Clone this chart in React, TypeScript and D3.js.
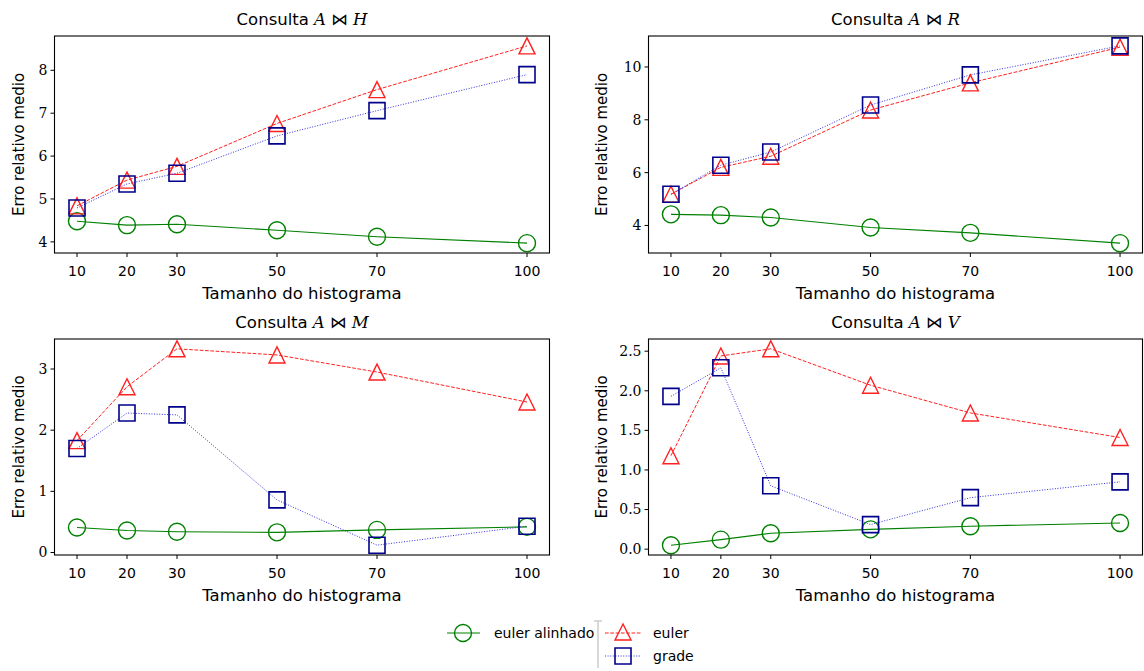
import React from "react";
import * as d3 from "d3";

// tamanhos de histograma (eixo x)
const sizes = [10, 20, 30, 50, 70, 100];

// Consulta A ⋈ H
const alinhadoH = [4.48, 4.39, 4.41, 4.27, 4.12, 3.97];
const eulerH = [4.84, 5.44, 5.76, 6.76, 7.55, 8.57];
const gradeH = [4.79, 5.35, 5.6, 6.47, 7.06, 7.9];
const ticksH = [4, 5, 6, 7, 8];

// Consulta A ⋈ R
const alinhadoR = [4.42, 4.39, 4.3, 3.92, 3.72, 3.33];
const eulerR = [5.18, 6.2, 6.62, 8.37, 9.4, 10.75];
const gradeR = [5.18, 6.28, 6.78, 8.56, 9.7, 10.8];
const ticksR = [4, 6, 8, 10];

// Consulta A ⋈ M
const alinhadoM = [0.41, 0.36, 0.34, 0.33, 0.37, 0.42];
const eulerM = [1.83, 2.71, 3.33, 3.23, 2.95, 2.46];
const gradeM = [1.7, 2.28, 2.25, 0.86, 0.12, 0.43];
const ticksM = [0, 1, 2, 3];

// Consulta A ⋈ V
const alinhadoV = [0.05, 0.12, 0.2, 0.25, 0.29, 0.33];
const eulerV = [1.18, 2.44, 2.53, 2.07, 1.72, 1.41];
const gradeV = [1.93, 2.29, 0.8, 0.31, 0.65, 0.85];
const ticksV = [0, 0.5, 1, 1.5, 2, 2.5];

const SANS = "DejaVu Sans, sans-serif";
const SERIF = "DejaVu Serif, serif";

const GREEN = "#008000";
const RED = "#ff2020";
const NAVY = "#00008b";
const BLUE = "#3030e0";

const triPath = "M0,-8L-8,8L8,8Z";
const sqPath = "M-8,-8H8V8H-8Z";

function Marker({ kind, x, y }) {
  if (kind === "circle")
    return <circle cx={x} cy={y} r={8.5} fill="none" stroke={GREEN} strokeWidth={1.4} />;
  if (kind === "tri")
    return <path d={triPath} transform={`translate(${x},${y})`} fill="none" stroke={RED} strokeWidth={1.4} />;
  return <path d={sqPath} transform={`translate(${x},${y})`} fill="none" stroke={NAVY} strokeWidth={1.6} />;
}

function Panel({ left, right, top, bottom, letter, alinhado, euler, grade, ticks, fmt, labelGap }) {
  const x = d3.scaleLinear().domain([5.5, 104.5]).range([left, right]);
  const all = [...alinhado, ...euler, ...grade];
  const lo = d3.min(all), hi = d3.max(all);
  const pad = (hi - lo) * 0.05;
  const y = d3.scaleLinear().domain([lo - pad, hi + pad]).range([bottom, top]);
  const line = d3.line<number>().x((d, i) => x(sizes[i])).y((d) => y(d));
  const cx = (left + right) / 2;
  const cy = (top + bottom) / 2;

  const series = [
    { vals: alinhado, kind: "circle", stroke: GREEN, dash: null, w: 1.1 },
    { vals: euler, kind: "tri", stroke: RED, dash: "3.7,1.6", w: 1 },
    { vals: grade, kind: "sq", stroke: BLUE, dash: "1,1.6", w: 1 },
  ];

  return (
    <g>
      <text x={cx} y={top - 11} textAnchor="middle" fontFamily={SANS} fontSize={16.5}>
        Consulta{" "}
        <tspan fontFamily={SERIF} fontStyle="italic">A</tspan>
        <tspan fontFamily={SANS}> ⋈ </tspan>
        <tspan fontFamily={SERIF} fontStyle="italic">{letter}</tspan>
      </text>

      {series.map((s, k) => (
        <g key={k}>
          <path d={line(s.vals)} fill="none" stroke={s.stroke} strokeWidth={s.w} strokeDasharray={s.dash || undefined} />
          {s.vals.map((v, i) => (
            <Marker key={i} kind={s.kind} x={x(sizes[i])} y={y(v)} />
          ))}
        </g>
      ))}

      <rect x={left} y={top} width={right - left} height={bottom - top} fill="none" stroke="#000" strokeWidth={1.1} />

      {sizes.map((s) => (
        <g key={s}>
          <line x1={x(s)} x2={x(s)} y1={bottom} y2={bottom + 4} stroke="#000" />
          <text x={x(s)} y={bottom + 23} textAnchor="middle" fontFamily={SANS} fontSize={14}>
            {s}
          </text>
        </g>
      ))}
      {ticks.map((t) => (
        <g key={t}>
          <line x1={left - 4} x2={left} y1={y(t)} y2={y(t)} stroke="#000" />
          <text x={left - 7} y={y(t)} dy="0.35em" textAnchor="end" fontFamily={SERIF} fontSize={14}>
            {fmt(t)}
          </text>
        </g>
      ))}

      <text x={cx} y={bottom + 46} textAnchor="middle" fontFamily={SANS} fontSize={16.5}>
        Tamanho do histograma
      </text>
      <text
        transform={`translate(${left - labelGap},${cy}) rotate(-90)`}
        textAnchor="middle"
        fontFamily={SANS}
        fontSize={15}
      >
        Erro relativo medio
      </text>
    </g>
  );
}

export default function App() {
  const int = (t) => d3.format("d")(t);
  const one = (t) => d3.format(".1f")(t);
  return (
    <svg width={1144} height={671} style={{ position: "absolute", left: 0, top: 0, background: "#fff" }}>
      <Panel left={54.5} right={549.5} top={36} bottom={253} letter="H" labelGap={31}
        alinhado={alinhadoH} euler={eulerH} grade={gradeH} ticks={ticksH} fmt={int} />
      <Panel left={648.5} right={1142.5} top={36} bottom={253} letter="R" labelGap={42}
        alinhado={alinhadoR} euler={eulerR} grade={gradeR} ticks={ticksR} fmt={int} />
      <Panel left={54.5} right={549.5} top={339} bottom={555} letter="M" labelGap={31}
        alinhado={alinhadoM} euler={eulerM} grade={gradeM} ticks={ticksM} fmt={int} />
      <Panel left={648.5} right={1142.5} top={339} bottom={555} letter="V" labelGap={42}
        alinhado={alinhadoV} euler={eulerV} grade={gradeV} ticks={ticksV} fmt={one} />

      {/* legenda */}
      <g fontFamily={SANS} fontSize={14}>
        <line x1={447} x2={480} y1={633} y2={633} stroke={GREEN} strokeWidth={1.1} />
        <Marker kind="circle" x={463} y={633} />
        <text x={494} y={638}>euler alinhado</text>

        <line x1={598} x2={598} y1={621} y2={668} stroke="#ccc" strokeWidth={1.5} />
        <line x1={594} x2={602} y1={621} y2={621} stroke="#ccc" strokeWidth={1.5} />

        <line x1={605} x2={641} y1={633} y2={633} stroke={RED} strokeDasharray="3.7,1.6" />
        <Marker kind="tri" x={623} y={632} />
        <text x={653} y={638}>euler</text>

        <line x1={605} x2={641} y1={656} y2={656} stroke={BLUE} strokeDasharray="1,1.6" />
        <Marker kind="sq" x={623} y={656} />
        <text x={653} y={661}>grade</text>
      </g>
    </svg>
  );
}
